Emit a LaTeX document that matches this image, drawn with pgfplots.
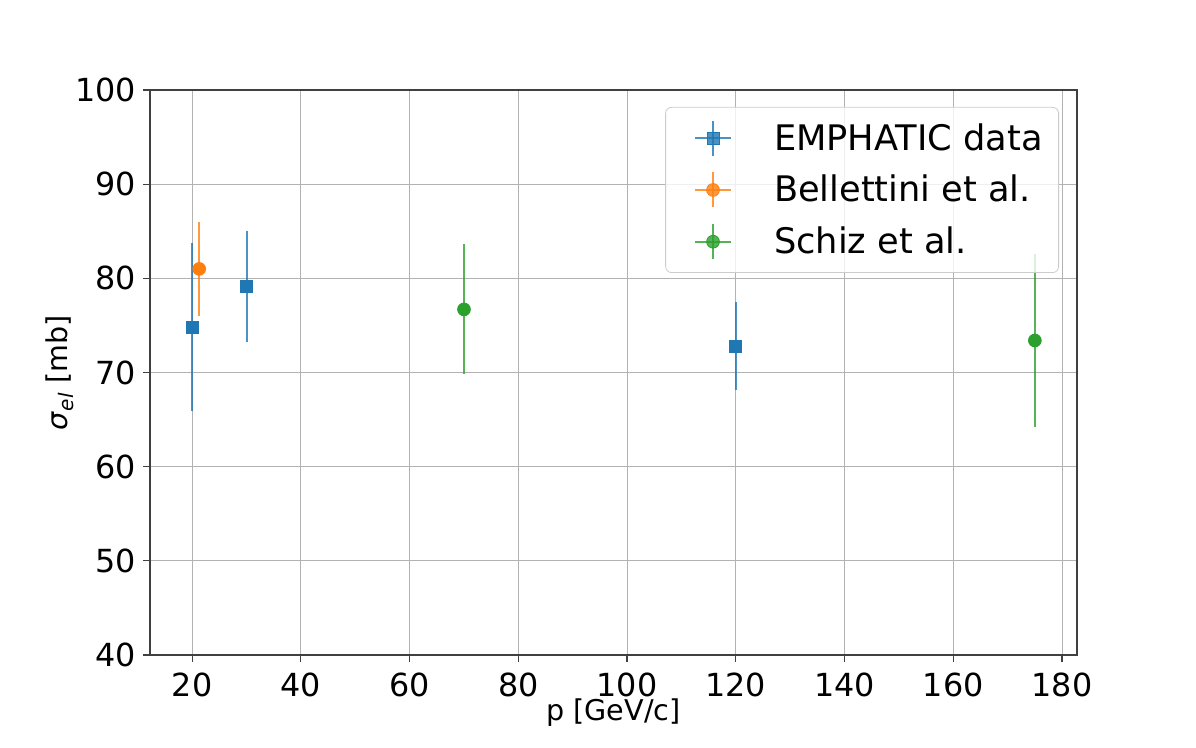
\documentclass[border=0pt]{standalone}
\usepackage{pgfplots}
\pgfplotsset{compat=1.18}
\usepackage{fontspec}
\setmainfont{DejaVu Sans}
\definecolor{tabblue}{HTML}{1F77B4}
\definecolor{taborange}{HTML}{FF7F0E}
\definecolor{tabgreen}{HTML}{2CA02C}

\pgfplotstableread{
x y e
20 74.8 8.9
30 79.1 5.9
120 72.8 4.7
}\emphatic
\pgfplotstableread{
x y e
21.3 81.0 5.0
}\bellettini
\pgfplotstableread{
x y e
70 76.7 6.9
175 73.4 9.2
}\schiz

\pgfplotsset{
  ebar/.style={
    error bars/.cd, y dir=both, y explicit, error mark=none,
    error bar style={line width=1pt, draw opacity=0.8}, /pgfplots/.cd},
  crossleg/.style={legend image code/.code={
      \path (0pt,0pt);
      \draw[line width=1pt, draw opacity=0.8] (8.5pt,0pt) -- (26.5pt,0pt);
      \draw[line width=1pt, draw opacity=0.8] (17.5pt,-8.75pt) -- (17.5pt,8.75pt);
      \draw plot coordinates {(17.5pt,0pt)};
  }},
}

\begin{document}
\begin{tikzpicture}
\path[use as bounding box] (0,0) rectangle (598pt,374pt);
\begin{axis}[
  at={(75pt,46.5pt)}, anchor=south west,
  scale only axis, width=463.5pt, height=282.5pt,
  xmin=12.25, xmax=182.75, ymin=40, ymax=100,
  xtick={20,40,...,180}, ytick={40,50,...,100},
  xtick pos=bottom, ytick pos=left,
  grid=major, major grid style={black!30, line width=0.5pt},
  axis line style={black!75, line width=0.6pt},
  tick align=outside, tick style={black!75, line width=0.6pt},
  major tick length=3.5pt,
  /pgf/number format/assume math mode=true,
  tick label style={font=\fontsize{15.9}{19}\selectfont},
  xticklabel style={inner ysep=2pt, yshift=-3.3pt},
  label style={font=\fontsize{14.3}{17}\selectfont},
  xlabel={p [GeV/c]}, ylabel={\textit{σ}\textsubscript{\textit{el}} [mb]},
  xlabel style={inner ysep=1pt, yshift=2.5pt}, ylabel style={yshift=-6pt},
  legend style={at={(0.9806,0.970)}, anchor=north east,
    font=\fontsize{17.6}{21}\selectfont,
    draw=black!20, rounded corners=3pt, fill=white, fill opacity=0.8, text opacity=1,
    row sep=7pt, inner xsep=6pt, inner ysep=6pt,
    /tikz/every odd column/.append style={column sep=19pt}},
  legend cell align=left,
]
\addplot[only marks, mark=square*, mark size=3pt, color=tabblue, crossleg, ebar]
  table[x=x, y=y, y error=e] {\emphatic};
\addlegendentry{EMPHATIC data}
\addplot[only marks, mark=*, mark size=3.2pt, color=taborange, crossleg, ebar]
  table[x=x, y=y, y error=e] {\bellettini};
\addlegendentry{Bellettini et al.}
\addplot[only marks, mark=*, mark size=3.2pt, color=tabgreen, crossleg, ebar]
  table[x=x, y=y, y error=e] {\schiz};
\addlegendentry{Schiz et al.}
\end{axis}
\end{tikzpicture}
\end{document}
